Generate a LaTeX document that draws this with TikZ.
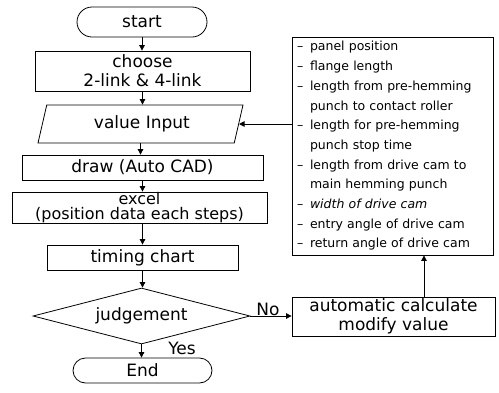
\documentclass[tikz,border=0pt]{standalone}
\usepackage{fontspec}
\setmainfont{DejaVu Sans}
\usetikzlibrary{shapes.misc,shapes.geometric,arrows.meta}

\tikzset{
  flow/.style={draw, line width=0.8pt, inner sep=0pt, align=center,
    font=\fontsize{17}{19}\selectfont},
  boxnode/.style={flow, rectangle},
  termnode/.style={flow, rounded rectangle},
  conn/.style={line width=0.8pt, -{Triangle[length=5.5pt,width=5.5pt]}},
  lbl/.style={inner sep=0pt, font=\fontsize{17}{19}\selectfont},
}
\newcommand{\itm}[1]{\makebox[13pt][l]{–}#1}
\newcommand{\cnt}[1]{\hspace*{13pt}#1}

\begin{document}
\begin{tikzpicture}[x=1pt,y=-1pt]
\useasboundingbox (0,0) rectangle (499,392);

% main flow
\node[termnode, minimum width=130, minimum height=30] (start) at (142,22) {start};
\node[boxnode, minimum width=215, minimum height=40] (choose) at (142.5,71)
  {choose\\2-link \& 4-link};
\node[flow, trapezium, trapezium left angle=62, trapezium right angle=118,
  trapezium stretches body, minimum width=205, minimum height=38] (value)
  at (140.5,124) {\,value Input};
\node[boxnode, minimum width=241, minimum height=25] (draw) at (142.5,167.5)
  {draw (Auto CAD)};
\node[boxnode, minimum width=255, minimum height=29,
  font=\fontsize{16}{15.5}\selectfont] (excel) at (139.5,207.5)
  {excel\\(position data each steps)};
\node[boxnode, minimum width=191, minimum height=25] (timing) at (142.5,257.5)
  {timing chart};
\node[flow, diamond, aspect=3.9, minimum width=217, minimum height=56] (judge)
  at (141.5,316) {judgement};
\node[termnode, minimum width=139, minimum height=25] (end) at (142.5,370.5) {End};

% side boxes
\node[boxnode, minimum width=203, minimum height=39] (auto) at (393.5,316.5)
  {automatic calculate\\modify value};
\node[draw, line width=0.8pt, rectangle, minimum width=201, minimum height=218,
  text width=191pt, inner sep=4pt, align=left,
  font=\fontsize{12.5}{19.7}\selectfont] (param) at (392.5,146)
  {\itm{panel position}\\
   \itm{flange length}\\
   \itm{length from pre-hemming}\\
   \cnt{punch to contact roller}\\
   \itm{length for pre-hemming}\\
   \cnt{punch stop time}\\
   \itm{length from drive cam to}\\
   \cnt{main hemming punch}\\
   \itm{\textit{width of drive cam}}\\
   \itm{entry angle of drive cam}\\
   \itm{return angle of drive cam}};

% connectors
\draw[conn] (start.south) -- (start.south |- choose.north);
\draw[conn] (choose.south) -- (choose.south |- value.north);
\draw[conn] (value.south) -- (value.south |- draw.north);
\draw[conn] (draw.south) -- (draw.south |- excel.north);
\draw[conn] (excel.south -| draw.south) -- (draw.south |- timing.north);
\draw[conn] (timing.south) -- (timing.south |- judge.north);
\draw[conn] (judge.south) -- (judge.south |- end.north);
\draw[conn] (judge.east) -- (judge.east -| auto.west);
\draw[conn] (auto.north -| 424,0) -- (param.south -| 424,0);
\draw[conn] (value.east -| param.west) -- (value.east);

% branch labels
\node[lbl] (yes) at (182,348) {Yes};
\node[lbl] (no) at (268,309) {No};
\end{tikzpicture}
\end{document}
